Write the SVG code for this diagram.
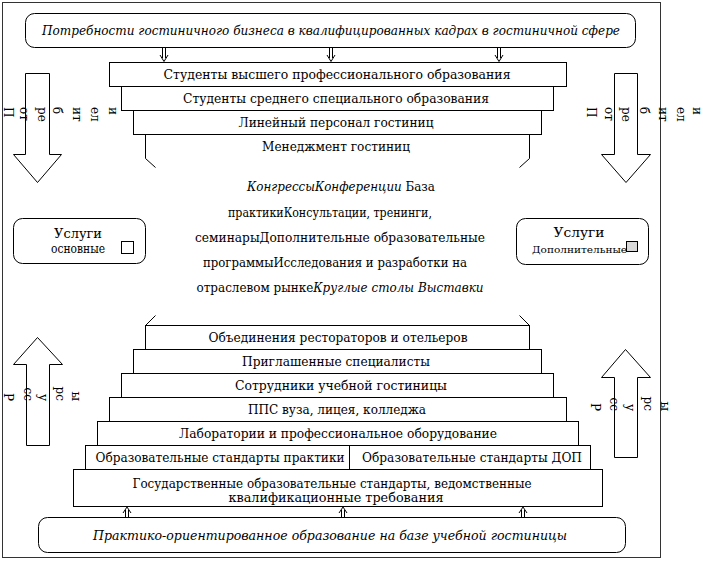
<svg xmlns="http://www.w3.org/2000/svg" width="703" height="566" viewBox="0 0 703 566" font-family="'DejaVu Serif', 'Liberation Serif', serif">
<defs>
<style>
text, tspan { font-family: 'DejaVu Serif', 'Liberation Serif', 'Times New Roman', serif; fill: #000; }
.t { font-size: 12px; text-anchor: middle; }
.it { font-style: italic; }
.box { fill: #fff; stroke: #000; stroke-width: 1; }
.ln { fill: none; stroke: #000; stroke-width: 1; }
.vt { font-size: 12px; }
.dbl { fill: none; stroke: #000; stroke-width: 1; }
</style>
</defs>
<rect width="703" height="566" fill="#fff"/>
<rect x="2.5" y="2.5" width="658" height="555" fill="none" stroke="#333" stroke-width="1"/>

<g id="needs">
<rect class="box" x="25.5" y="13.5" width="610" height="34" rx="9"/>
<text class="t it" x="331" y="35" font-size="13" textLength="578" lengthAdjust="spacingAndGlyphs">Потребности гостиничного бизнеса в квалифицированных кадрах в гостиничной сфере</text>
</g>

<g id="step-top-1">
<rect class="box" x="109.5" y="62.5" width="457" height="24"/>
<text class="t" x="337" y="79" textLength="347" lengthAdjust="spacingAndGlyphs">Студенты высшего профессионального образования</text>
</g>
<g id="step-top-2">
<rect class="box" x="121.5" y="86.5" width="432" height="24"/>
<text class="t" x="336" y="103" textLength="306" lengthAdjust="spacingAndGlyphs">Студенты среднего специального образования</text>
</g>
<g id="step-top-3">
<rect class="box" x="133.5" y="110.5" width="408" height="24"/>
<text class="t" x="336" y="127" textLength="195" lengthAdjust="spacingAndGlyphs">Линейный персонал гостиниц</text>
</g>
<g id="step-top-4">
<path class="ln" d="M145.5 134.5 V158.5 L155.5 167.5 M529.5 134.5 V158.5 L519.5 167.5"/>
<text class="t" x="336" y="151" textLength="148" lengthAdjust="spacingAndGlyphs">Менеджмент гостиниц</text>
</g>

<g id="center-text">
<text class="t" x="341" y="191" font-size="12.5" textLength="188" lengthAdjust="spacingAndGlyphs"><tspan class="it">КонгрессыКонференции</tspan> База</text>
<text class="t" x="330" y="217" font-size="12.5" textLength="204" lengthAdjust="spacingAndGlyphs">практикиКонсультации, тренинги,</text>
<text class="t" x="340" y="242" font-size="12.5" textLength="290" lengthAdjust="spacingAndGlyphs">семинарыДополнительные образовательные</text>
<text class="t" x="335" y="267" font-size="12.5" textLength="264" lengthAdjust="spacingAndGlyphs">программыИсследования и разработки на</text>
<text class="t" x="340" y="292" font-size="12.5" textLength="287" lengthAdjust="spacingAndGlyphs">отраслевом рынке<tspan class="it">Круглые столы Выставки</tspan></text>
</g>

<g id="services-main">
<rect class="box" x="13.5" y="218.5" width="132" height="45" rx="9"/>
<text class="t" x="78" y="238" font-size="13" textLength="48" lengthAdjust="spacingAndGlyphs">Услуги</text>
<text class="t" x="78" y="253" font-size="10" textLength="54" lengthAdjust="spacingAndGlyphs">основные</text>
<rect x="121.5" y="241.5" width="12" height="12" fill="#fff" stroke="#000"/>
</g>
<g id="services-extra">
<rect class="box" x="516.5" y="218.5" width="132" height="46" rx="9"/>
<text class="t" x="579" y="237" font-size="13" textLength="51" lengthAdjust="spacingAndGlyphs">Услуги</text>
<text x="532" y="253" font-size="10" textLength="95" lengthAdjust="spacingAndGlyphs">Дополнительные</text>
<rect x="626.5" y="241.5" width="11" height="10" fill="#d9d9d9" stroke="#000"/>
</g>

<g id="step-bot-1">
<rect class="box" x="145.5" y="325.5" width="384" height="24"/>
<path class="ln" d="M145.5 325.5 L155.5 315.5 M529.5 325.5 L519.5 315.5"/>
<text class="t" x="338" y="342" textLength="259" lengthAdjust="spacingAndGlyphs">Объединения рестораторов и отельеров</text>
</g>
<g id="step-bot-2">
<rect class="box" x="133.5" y="349.5" width="408" height="24"/>
<text class="t" x="336" y="366" textLength="188" lengthAdjust="spacingAndGlyphs">Приглашенные специалисты</text>
</g>
<g id="step-bot-3">
<rect class="box" x="121.5" y="373.5" width="432" height="24"/>
<text class="t" x="341" y="390" textLength="212" lengthAdjust="spacingAndGlyphs">Сотрудники учебной гостиницы</text>
</g>
<g id="step-bot-4">
<rect class="box" x="109.5" y="397.5" width="457" height="24"/>
<text class="t" x="337" y="414" textLength="178" lengthAdjust="spacingAndGlyphs">ППС вуза, лицея, колледжа</text>
</g>
<g id="step-bot-5">
<rect class="box" x="97.5" y="421.5" width="481" height="24"/>
<text class="t" x="338" y="438" textLength="318" lengthAdjust="spacingAndGlyphs">Лаборатории и профессиональное оборудование</text>
</g>
<g id="step-bot-6a">
<rect class="box" x="85.5" y="445.5" width="264" height="24"/>
<text class="t" x="220" y="462" textLength="249" lengthAdjust="spacingAndGlyphs">Образовательные стандарты практики</text>
</g>
<g id="step-bot-6b">
<rect class="box" x="349.5" y="445.5" width="241" height="24"/>
<text class="t" x="472" y="462" textLength="220" lengthAdjust="spacingAndGlyphs">Образовательные стандарты ДОП</text>
</g>
<g id="step-bot-7">
<rect class="box" x="73.5" y="469.5" width="529" height="37"/>
<text class="t" x="332" y="488" textLength="399" lengthAdjust="spacingAndGlyphs">Государственные образовательные стандарты, ведомственные</text>
<text class="t" x="336" y="502" textLength="215" lengthAdjust="spacingAndGlyphs">квалификационные требования</text>
</g>

<g id="practice">
<rect class="box" x="38.5" y="517.5" width="587" height="35" rx="9"/>
<text class="t it" x="330" y="540" font-size="13" textLength="474" lengthAdjust="spacingAndGlyphs">Практико-ориентированное образование на базе учебной гостиницы</text>
</g>

<g id="consumers-left">
<polygon class="box" points="25.5,73.5 49.5,73.5 49.5,154.5 61.5,154.5 37.5,182.5 13.5,154.5 25.5,154.5"/>
<g class="vt">
<text transform="translate(8,107) rotate(90)" dy="0.35em">П</text>
<text transform="translate(24,107) rotate(90)" dy="0.35em">от</text>
<text transform="translate(42,107) rotate(90)" dy="0.35em">ре</text>
<text transform="translate(57,107) rotate(90)" dy="0.35em">б</text>
<text transform="translate(77,107) rotate(90)" dy="0.35em">ит</text>
<text transform="translate(95,107) rotate(90)" dy="0.35em">ел</text>
<text transform="translate(113,107) rotate(90)" dy="0.35em">и</text>
</g>
</g>
<g id="consumers-right">
<polygon class="box" points="614.5,73.5 637.5,73.5 637.5,154.5 650.5,154.5 626,182.5 601.5,154.5 614.5,154.5"/>
<g class="vt">
<text transform="translate(591,107) rotate(90)" dy="0.35em">П</text>
<text transform="translate(609,107) rotate(90)" dy="0.35em">от</text>
<text transform="translate(626,107) rotate(90)" dy="0.35em">ре</text>
<text transform="translate(644,107) rotate(90)" dy="0.35em">б</text>
<text transform="translate(663,107) rotate(90)" dy="0.35em">ит</text>
<text transform="translate(681,107) rotate(90)" dy="0.35em">ел</text>
<text transform="translate(697,107) rotate(90)" dy="0.35em">и</text>
</g>
</g>
<g id="resources-left">
<polygon class="box" points="37.5,337.5 62.5,364.5 49.5,364.5 49.5,445.5 26.5,445.5 26.5,364.5 13.5,364.5"/>
<g class="vt" text-anchor="end">
<text transform="translate(8,401) rotate(90)" dy="0.35em">Р</text>
<text transform="translate(28,401) rotate(90)" dy="0.35em">сс</text>
<text transform="translate(43,401) rotate(90)" dy="0.35em">у</text>
<text transform="translate(60,401) rotate(90)" dy="0.35em">рс</text>
<text transform="translate(76,401) rotate(90)" dy="0.35em">ы</text>
</g>
</g>
<g id="resources-right">
<polygon class="box" points="625.5,349.5 650.5,377.5 637.5,377.5 637.5,457.5 614.5,457.5 614.5,377.5 601.5,377.5"/>
<g class="vt" text-anchor="end">
<text transform="translate(595,411) rotate(90)" dy="0.35em">Р</text>
<text transform="translate(614,411) rotate(90)" dy="0.35em">сс</text>
<text transform="translate(630,411) rotate(90)" dy="0.35em">у</text>
<text transform="translate(648,411) rotate(90)" dy="0.35em">рс</text>
<text transform="translate(665,411) rotate(90)" dy="0.35em">ы</text>
</g>
</g>

<g id="connectors">
<path class="dbl" d="M162.5 48 V58 M165.5 48 V58 M160 55 L164 61.5 L168 55"/>
<path class="dbl" d="M329.5 48 V58 M332.5 48 V58 M327 55 L331 61.5 L335 55"/>
<path class="dbl" d="M497.5 48 V58 M500.5 48 V58 M495 55 L499 61.5 L503 55"/>
<path class="dbl" d="M125.5 517 V510 M128.5 517 V510 M123 513 L127 507 L131 513"/>
<path class="dbl" d="M341.5 517 V510 M344.5 517 V510 M339 513 L343 507 L347 513"/>
<path class="dbl" d="M521.5 517 V510 M524.5 517 V510 M519 513 L523 507 L527 513"/>
</g>
</svg>
